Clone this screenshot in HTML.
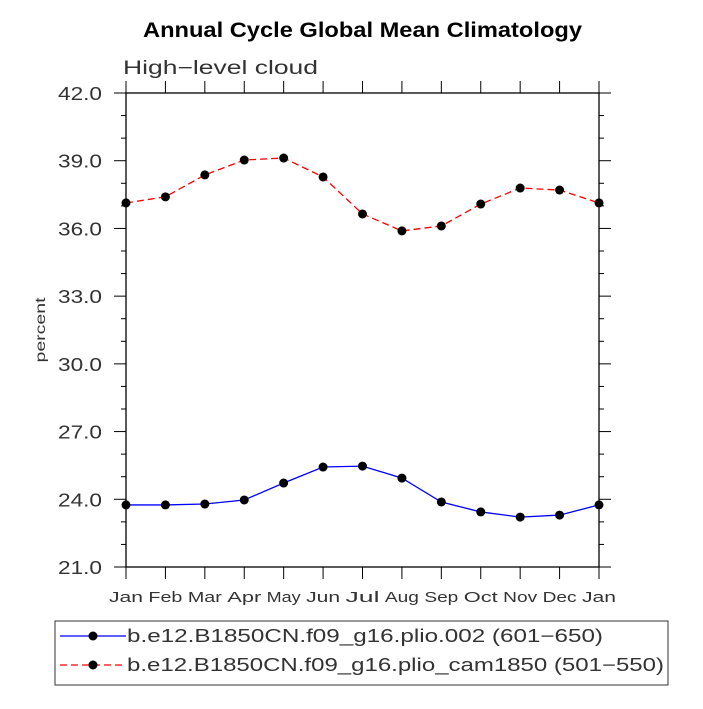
<!DOCTYPE html>
<html><head><meta charset="utf-8"><style>
body{margin:0;background:#fff;}
svg text{font-family:"Liberation Sans",sans-serif;}
</style></head><body>
<svg id="c" width="703" height="704" xmlns="http://www.w3.org/2000/svg">
<text x="143" y="37" textLength="439" lengthAdjust="spacingAndGlyphs" font-size="21" font-weight="bold">Annual Cycle Global Mean Climatology</text>
<text x="123" y="74" textLength="195" lengthAdjust="spacingAndGlyphs" font-size="19" fill="#333">High−level cloud</text>
<text transform="translate(45,330) rotate(-90)" text-anchor="middle" textLength="65" lengthAdjust="spacingAndGlyphs" font-size="14" fill="#333">percent</text>
<g id="axes"></g>
<g id="series"></g>
<g>
<rect x="55" y="621" width="613" height="64" fill="#fff" stroke="#333"/>
<line x1="60" y1="636" x2="126" y2="636" stroke="blue" stroke-width="1.3"/>
<circle cx="93" cy="636" r="4.5" fill="#000"/>
<text x="127" y="642" textLength="476" lengthAdjust="spacingAndGlyphs" font-size="18" fill="#333">b.e12.B1850CN.f09_g16.plio.002 (601−650)</text>
<line x1="60" y1="665" x2="126" y2="665" stroke="red" stroke-width="1.3" stroke-dasharray="7,4"/>
<circle cx="93" cy="665" r="4.5" fill="#000"/>
<text x="127" y="671" textLength="537" lengthAdjust="spacingAndGlyphs" font-size="18" fill="#333">b.e12.B1850CN.f09_g16.plio_cam1850 (501−550)</text>
</g>
</svg>
<script>
const months=["Jan","Feb","Mar","Apr","May","Jun","Jul","Aug","Sep","Oct","Nov","Dec","Jan"];
const plioValues=[23.75,23.75,23.79,23.97,24.72,25.43,25.47,24.94,23.88,23.44,23.21,23.3,23.75];
const camValues=[37.13,37.4,38.37,39.03,39.12,38.28,36.64,35.89,36.11,37.08,37.79,37.7,37.13];
const yTicks=["21.0","24.0","27.0","30.0","33.0","36.0","39.0","42.0"];
const NS="http://www.w3.org/2000/svg";
const L=126,R=599,T=93,B=567,ymin=21,ymax=42;
const x=i=>L+(R-L)*i/(months.length-1);
const y=v=>B-(v-ymin)/(ymax-ymin)*(B-T);
function mk(t,a,p){const e=document.createElementNS(NS,t);for(const k in a)e.setAttribute(k,a[k]);p.appendChild(e);return e;}
const ax=document.getElementById('axes');
const fr=mk('rect',{x:L,y:T,width:R-L,height:B-T,fill:'none',stroke:'#000','stroke-width':1.3},ax);


for(let v=ymin;v<=ymax;v++){const maj=(v-ymin)%3===0;const len=maj?12:5;
 mk('line',{x1:L-len,x2:L,y1:y(v),y2:y(v),stroke:'#000'},ax);
 mk('line',{x1:R,x2:R+len,y1:y(v),y2:y(v),stroke:'#000'},ax);}
yTicks.forEach(s=>{const t=mk('text',{x:58,y:y(+s)+7,textLength:44,lengthAdjust:'spacingAndGlyphs','font-size':18,fill:'#333'},ax);t.textContent=s;
 
 });
months.forEach((m,i)=>{mk('line',{x1:x(i),x2:x(i),y1:B,y2:B+12,stroke:'#000'},ax);
 mk('line',{x1:x(i),x2:x(i),y1:T-12,y2:T,stroke:'#000'},ax);
 const t=mk('text',{x:x(i)-17,y:B+35,textLength:34,lengthAdjust:'spacingAndGlyphs','font-size':15,fill:'#333'},ax);t.textContent=m;
 
 });
const sg=document.getElementById('series');
function draw(vals,col,dash,name){
 const p=mk('polyline',{points:vals.map((v,i)=>x(i)+','+y(v)).join(' '),fill:'none',stroke:col,'stroke-width':1.3,'stroke-dasharray':dash},sg);
 
 
 vals.forEach((v,i)=>{const c=mk('circle',{cx:x(i),cy:y(v),r:4.5,fill:'#000'},sg);
  
  });
}
draw(plioValues,'blue','none','plio');
draw(camValues,'red','7,4','cam1850');
</script>
</body></html>
